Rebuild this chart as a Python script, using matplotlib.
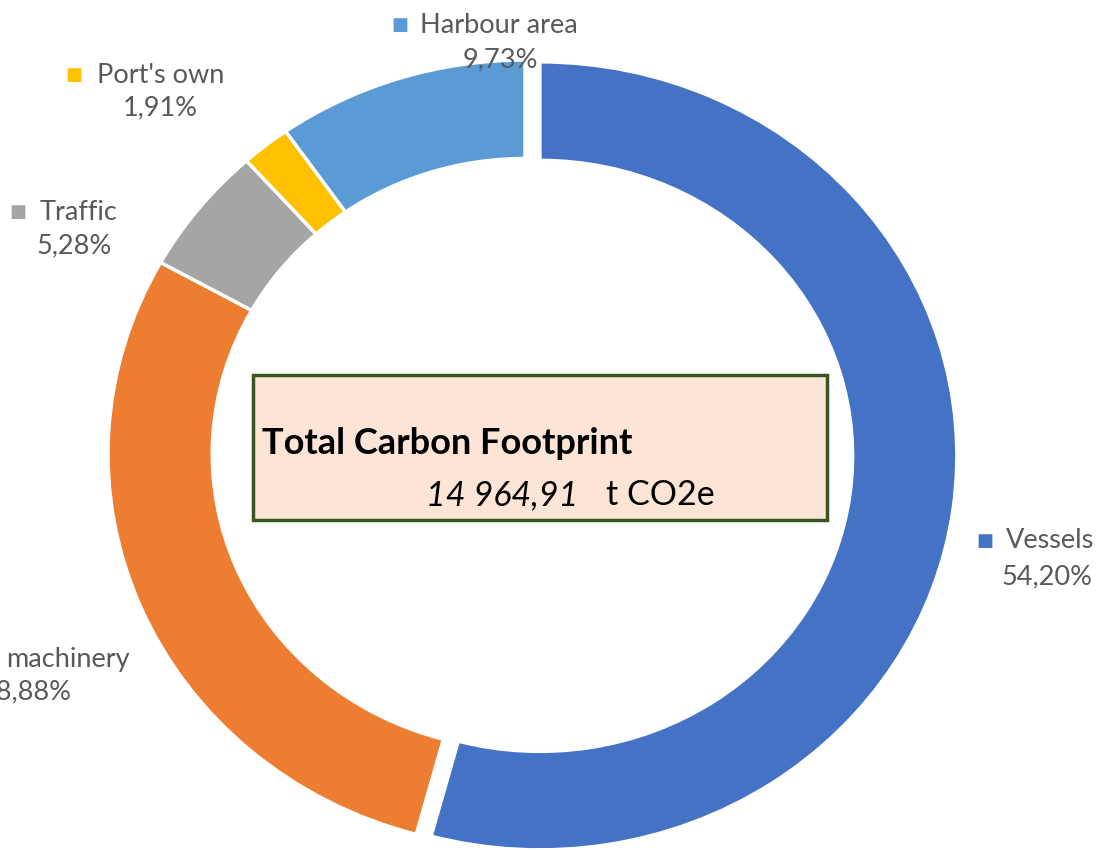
import matplotlib.pyplot as plt
from matplotlib.patches import Rectangle

# data, clockwise from 12 o'clock
sources = ["Vessels", "machinery", "Traffic", "Port's own", "Harbour area"]
shares = [54.20, 28.88, 5.28, 1.91, 9.73]
colors = ["#4472C4", "#ED7D31", "#A5A5A5", "#FFC000", "#5B9BD5"]
total_co2e = "14 964,91"

plt.rcParams["font.family"] = ["Lato", "DejaVu Sans"]

W, H = 1099, 850
fig = plt.figure(figsize=(W / 100, H / 100), dpi=100)

# donut (picture is stretched a bit horizontally, so aspect is left auto)
cx, cy, rx, ry = 525, 454, 417, 394
ax = fig.add_axes([(cx - rx) / W, (H - cy - ry) / H, 2 * rx / W, 2 * ry / H])
explode = [0.036, 0, 0, 0, 0]
ax.pie(shares, colors=colors, startangle=90, counterclock=False,
       explode=explode, radius=1,
       wedgeprops=dict(width=0.25, edgecolor="white", linewidth=2.5))
ax.set_aspect("auto")
ax.set_xlim(-1, 1)
ax.set_ylim(-1, 1)
ax.axis("off")

# overlay in pixel coords for labels and the box
ov = fig.add_axes([0, 0, 1, 1], facecolor="none")
ov.set_xlim(0, W)
ov.set_ylim(H, 0)
ov.axis("off")

grey = "#595959"
fs = 19.5


def pct(v):
    return f"{v:.2f}".replace(".", ",") + "%"


# (square x, name left x, line y, pct center x, pct y)
label_pos = {
    "Harbour area": (400, 420, 25, 500, 60),
    "Port's own": (74, 97, 75, 160, 108),
    "Traffic": (18, 40, 212, 74, 246),
    "Vessels": (985, 1006, 541, 1047, 577),
}
for name, val, col in zip(sources, shares, colors):
    if name in label_pos:
        sx, tx, ty, px, py = label_pos[name]
        ov.text(sx, ty, "■", color=col, fontsize=13, ha="center", va="center")
        ov.text(tx, ty, name, color=grey, fontsize=fs, ha="left", va="center")
        ov.text(px, py, pct(val), color=grey, fontsize=fs, ha="center", va="center")
    else:
        # this label is cut off by the left edge, as in the source picture
        ov.text(130, 660, name, color=grey, fontsize=fs, ha="right", va="center")
        ov.text(72, 692, pct(val), color=grey, fontsize=fs, ha="right", va="center")

# total box
ov.add_patch(Rectangle((253, 375), 574, 145, facecolor="#FCE4D6",
                       edgecolor="#375623", linewidth=2.5))
ov.text(262, 443, "Total Carbon Footprint", fontsize=26, fontweight="bold",
        color="black", ha="left", va="center")
ov.text(578, 495, total_co2e, fontsize=24.5, style="italic", color="black",
        ha="right", va="center")
ov.text(606, 495, "t CO2e", fontsize=24.5, color="black", ha="left", va="center")

fig.savefig("out.png", dpi=100)
